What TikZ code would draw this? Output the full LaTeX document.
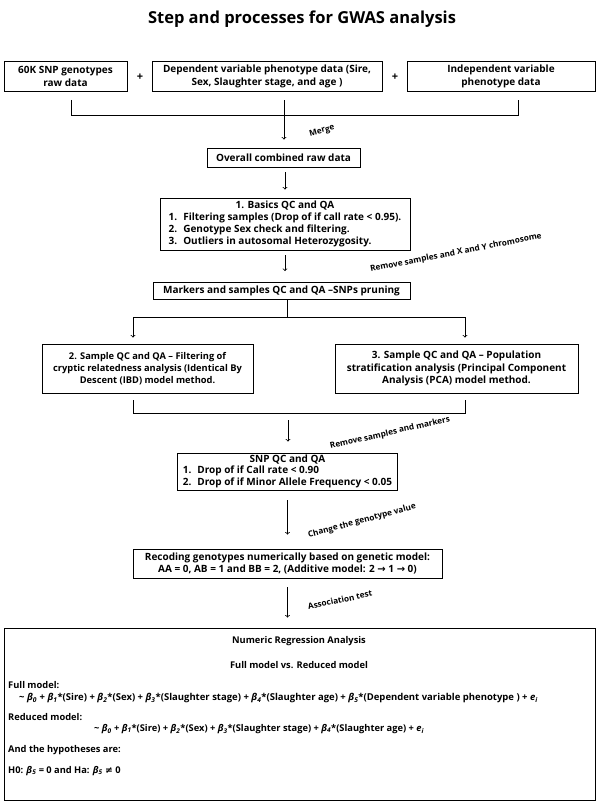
\documentclass[tikz,border=0pt]{standalone}
\usepackage{fontspec}
\setmainfont{Open Sans}
\newfontfamily\symfont{DejaVu Sans}
\usepackage{tikz}

\newcommand{\bt}[1]{{\itshape β\textsubscript{#1}}}
\newcommand{\sar}{{\symfont\bfseries →}}
\newcommand{\sne}{{\symfont\bfseries ≠}}

\tikzset{
  box/.style={draw, line width=0.9pt, align=center, inner sep=1pt,
    font=\fontsize{10}{12.3}\selectfont\bfseries},
  txt/.style={inner sep=0pt, anchor=west, font=\fontsize{9.3}{11}\selectfont\bfseries},
  lbl/.style={inner sep=0pt, font=\fontsize{8.2}{9}\selectfont\bfseries},
  tick/.style={line width=0.8pt},
  flow/.style={->, line width=0.8pt, shorten <=5pt, shorten >=8pt}
}

\begin{document}
\begin{tikzpicture}[x=1pt,y=-1pt]
\useasboundingbox (0,0) rectangle (598,806);
% title
\node[font=\fontsize{16.5}{20}\selectfont\bfseries] (title) at (302,19) {Step and processes for GWAS analysis};
% input data
\node[box, minimum width=123pt, minimum height=30pt] (raw) at (65.5,76.5) {60K SNP genotypes\\raw data};
\node[font=\fontsize{11}{12}\selectfont\bfseries] (plus1) at (140,77) {+};
\node[box, minimum width=230pt, minimum height=30pt] (dep) at (267,76.5) {Dependent variable phenotype data (Sire,\\Sex, Slaughter stage, and age )};
\node[font=\fontsize{11}{12}\selectfont\bfseries] (plus2) at (395,77) {+};
\node[box, minimum width=188pt, minimum height=30pt] (indep) at (501,76.5) {Independent variable\\phenotype data};
% merge
\coordinate (mL) at (71,115);
\coordinate (mR) at (518,115);
\coordinate (mC) at (284,100);
\draw[tick] ([yshift=-8pt]mL |- raw.south) -- (mL) -- (mR) -- ([yshift=-8pt]mR |- indep.south);
\node[box, minimum width=153pt, minimum height=19pt] (comb) at (283.5,157.5) {Overall combined raw data};
\draw[flow, shorten <=0pt] (mC) -- (mC |- comb.north);
\node[lbl, rotate=15] (merge) at (322,131) {Merge};
% basic QC
\node[box, minimum width=250pt, minimum height=52pt] (basic) at (285,224) {\begin{tabular}{@{}l@{\hspace{6pt}}l@{}}
\multicolumn{2}{c}{1. Basics QC and QA}\\
1. & Filtering samples (Drop of if call rate < 0.95).\\
2. & Genotype Sex check and filtering.\\
3. & Outliers in autosomal Heterozygosity.
\end{tabular}};
\draw[flow] (comb.south -| basic.north) -- (basic.north);
\node[box, minimum width=257pt, minimum height=17pt] (prune) at (281.5,291) {Markers and samples QC and QA –SNPs pruning};
\draw[flow, shorten >=11pt] (basic.south) -- (basic.south |- prune.north);
\node[lbl, rotate=11] (rmxy) at (456,253) {Remove samples and X and Y chromosome};
% IBD and PCA
\coordinate (sL) at (133,317);
\coordinate (sR) at (465,317);
\node[box, font=\fontsize{9.3}{12.3}\selectfont\bfseries, minimum width=211pt, minimum height=49pt] (ibd) at (147.5,368.5) {2. Sample QC and QA – Filtering of\\cryptic relatedness analysis (Identical By\\Descent (IBD) model method.};
\node[box, minimum width=243pt, minimum height=49pt] (pca) at (456.5,368.5) {3. Sample QC and QA – Population\\stratification analysis (Principal Component\\Analysis (PCA) model method.};
\draw[tick] ([xshift=5.5pt]prune.south) -- ([xshift=5.5pt]prune.south |- sL);
\draw[tick] (sL) -- (sR);
\draw[flow, shorten <=0pt, shorten >=6pt] (sL) -- (sL |- ibd.north);
\draw[flow, shorten <=0pt, shorten >=6pt] (sR) -- (sR |- pca.north);
% SNP QC
\coordinate (jL) at (133,413);
\coordinate (jR) at (465,413);
\coordinate (jC) at (288,420);
\draw[tick] ([yshift=-7pt]jL |- ibd.south) -- (jL) -- (jR) -- ([yshift=-7pt]jR |- pca.south);
\node[box, minimum width=220pt, minimum height=37pt] (snp) at (287.5,471.5) {\begin{tabular}{@{}l@{\hspace{6pt}}l@{}}
\multicolumn{2}{c}{SNP QC and QA}\\[-1pt]
1. & Drop of if Call rate < 0.90\\[-1pt]
2. & Drop of if Minor Allele Frequency < 0.05
\end{tabular}};
\draw[flow, shorten <=0pt, shorten >=11pt] (jC) -- (jC |- snp.north);
\node[lbl, rotate=13] (rmsm) at (390,433) {Remove samples and markers};
% recoding
\node[box, minimum width=309pt, minimum height=29pt] (recode) at (287.5,563.5) {Recoding genotypes numerically based on genetic model:\\AA = 0, AB = 1 and BB = 2, (Additive model: 2 \sar{} 1 \sar{} 0)};
\draw[flow, shorten <=10pt, shorten >=14pt] (snp.south) -- (snp.south |- recode.north);
\node[lbl, rotate=15] (chg) at (362,521) {Change the genotype value};
% regression
\node[draw, line width=0.9pt, minimum width=591pt, minimum height=172pt] (reg) at (299.5,714) {};
\draw[flow, shorten <=9pt, shorten >=10pt] (recode.south) -- (recode.south |- reg.north);
\node[lbl, rotate=12] (assoc) at (340,600) {Association test};
\node[txt, anchor=center] (head) at (299,641) {Numeric Regression Analysis};
\node[txt, anchor=center] (vs) at (299,665) {Full model vs. Reduced model};
\node[txt] (full) at (8,685) {Full model:};
\node[txt, font=\fontsize{9.5}{11}\selectfont\bfseries] (fulleq) at (19,698) {\textasciitilde{} \bt0 + \bt1*(Sire) + \bt2*(Sex) + \bt3*(Slaughter stage) + \bt4*(Slaughter age) + \bt5*(Dependent variable phenotype ) + {\itshape e\textsubscript{i}}};
\node[txt] (red) at (8,717) {Reduced model:};
\node[txt, anchor=center] (redeq) at (259,729) {\textasciitilde{} \bt0 + \bt1*(Sire) + \bt2*(Sex) + \bt3*(Slaughter stage) + \bt4*(Slaughter age) + {\itshape e\textsubscript{i}}};
\node[txt] (hyp) at (8,750) {And the hypotheses are:};
\node[txt] (h0) at (8,771) {H0: \bt5 = 0 and Ha: \bt5 \sne{} 0};
\end{tikzpicture}
\end{document}
